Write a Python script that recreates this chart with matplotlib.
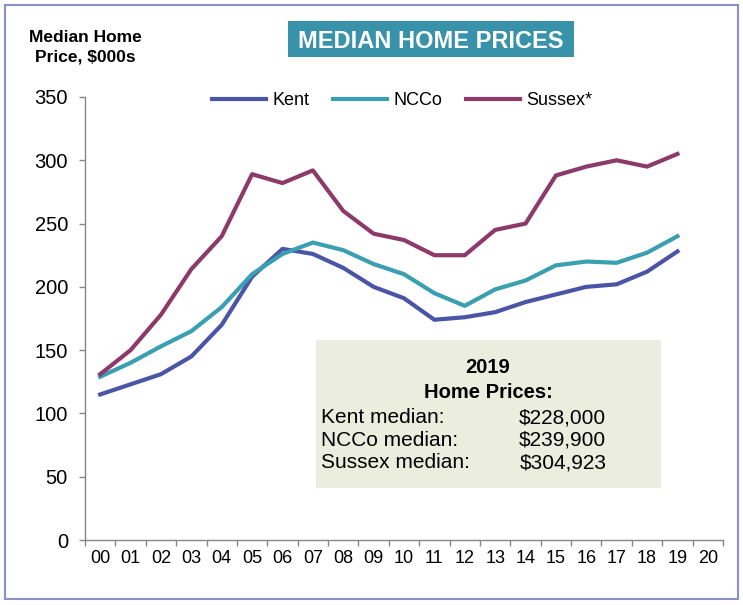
import matplotlib
matplotlib.use("Agg")
import matplotlib.pyplot as plt
from matplotlib.patches import Rectangle

years = ["00", "01", "02", "03", "04", "05", "06", "07", "08", "09", "10",
         "11", "12", "13", "14", "15", "16", "17", "18", "19", "20"]
kent = [115, 123, 131, 145, 170, 208, 230, 226, 215, 200, 191,
        174, 176, 180, 188, 194, 200, 202, 212, 228]
ncco = [129, 140, 153, 165, 184, 210, 226, 235, 229, 218, 210,
        195, 185, 198, 205, 217, 220, 219, 227, 240]
sussex = [131, 150, 178, 214, 240, 289, 282, 292, 260, 242, 237,
          225, 225, 245, 250, 288, 295, 300, 295, 305]
series_names = ["Kent", "NCCo", "Sussex*"]
colors = ["#4a55a8", "#3a9fb1", "#8d3a6b"]
yticks = [0, 50, 100, 150, 200, 250, 300, 350]
box_title = ["2019", "Home Prices:"]
box_rows = [("Kent median:", "$228,000"), ("NCCo median:", "$239,900"), ("Sussex median:", "$304,923")]

plt.rcParams['font.family'] = ['Liberation Sans', 'DejaVu Sans']

W, H = 743, 605
fig = plt.figure(figsize=(W / 100, H / 100), dpi=100)


def fx(px):
    return px / W


def fy(py):
    return 1 - py / H


fig.patches.append(Rectangle((fx(5), fy(599)), fx(733), 594 / H, transform=fig.transFigure,
                             fill=False, edgecolor="#8a90c8", linewidth=1.5))

ax = fig.add_axes([fx(85), fy(540), fx(638), 443 / H])
for data, name, c in zip([kent, ncco, sussex], series_names, colors):
    xs = [i + 0.5 for i in range(len(data))]
    ax.plot(xs, data, color=c, linewidth=3, label=name)

ax.set_xlim(0, len(years))
ax.set_ylim(0, 350)
ax.set_yticks(yticks)
ax.set_yticklabels([str(v) for v in yticks], fontsize=14.5)
ax.set_xticks(range(len(years) + 1))
ax.set_xticklabels([])
ax.set_xticks([i + 0.5 for i in range(len(years))], minor=True)
ax.set_xticklabels(years, minor=True, fontsize=13)
ax.tick_params(axis="x", which="major", length=4, color="#868686", width=1)
ax.tick_params(axis="x", which="minor", length=0, pad=7)
ax.tick_params(axis="y", length=4.3, color="#868686", width=1, pad=8)
for s in ["top", "right"]:
    ax.spines[s].set_visible(False)
for s in ["left", "bottom"]:
    ax.spines[s].set_color("#868686")
    ax.spines[s].set_linewidth(1)

ax.legend(loc="center", bbox_to_anchor=(0.497, 0.992), ncol=3, frameon=False,
          fontsize=13, handlelength=3.0, handletextpad=0.33, columnspacing=1.33)

# y axis title
fig.text(fx(85), fy(41.7), "Median Home", fontsize=12.5, fontweight="bold", ha="center", va="baseline")
fig.text(fx(85), fy(61.7), "Price, $000s", fontsize=12.5, fontweight="bold", ha="center", va="baseline")

# chart title
fig.patches.append(Rectangle((fx(288), fy(57)), fx(286), 36 / H, transform=fig.transFigure,
                             facecolor="#3893aa", edgecolor="none"))
fig.text(fx(430.5), fy(48.3), "MEDIAN HOME PRICES", fontsize=17, fontweight="bold",
         color="white", ha="center", va="baseline")

# annotation box
fig.patches.append(Rectangle((fx(316), fy(487.5)), fx(345), 147.5 / H,
                             transform=fig.transFigure, facecolor="#ebeedf", edgecolor="none"))
fig.text(fx(488), fy(373.3), box_title[0], fontsize=14.5, fontweight="bold", ha="center", va="baseline")
fig.text(fx(488), fy(397.7), box_title[1], fontsize=14.5, fontweight="bold", ha="center", va="baseline")
for k, (lab, val) in enumerate(box_rows):
    yb = 423.3 + 22.5 * k
    fig.text(fx(321), fy(yb), lab, fontsize=15, ha="left", va="baseline")
    fig.text(fx(518.5 if k < 2 else 520), fy(yb), val, fontsize=15, ha="left", va="baseline")

fig.savefig("out.png", dpi=100)
